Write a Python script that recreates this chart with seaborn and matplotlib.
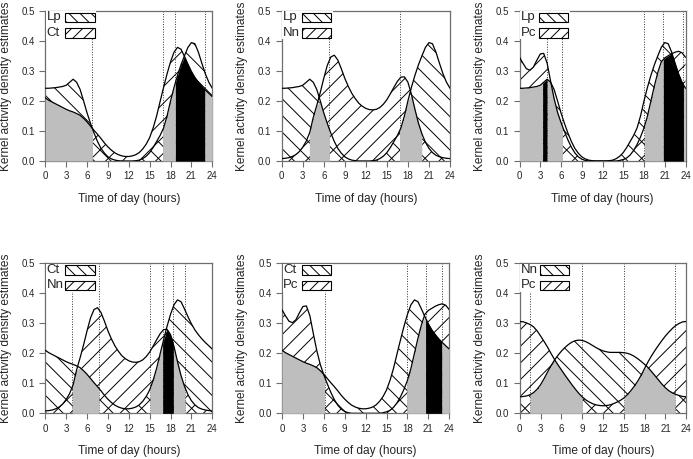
import numpy as np
import matplotlib
matplotlib.use("Agg")
import matplotlib.pyplot as plt
import seaborn as sns
from matplotlib.patches import Rectangle

# ---------------- data ----------------
hours = np.arange(0, 24.5, 0.5)

Lp = [0.242, 0.242, 0.243, 0.244, 0.246, 0.248, 0.252, 0.262, 0.272, 0.262,
      0.238, 0.200, 0.160, 0.125, 0.093, 0.065, 0.042, 0.026, 0.014, 0.007,
      0.003, 0.001, 0.000, 0.000, 0.000, 0.000, 0.001, 0.003, 0.008, 0.016,
      0.028, 0.045, 0.065, 0.085, 0.110, 0.150, 0.200, 0.245, 0.285, 0.320,
      0.350, 0.378, 0.394, 0.390, 0.362, 0.325, 0.290, 0.262, 0.242]

Ct = [0.210, 0.202, 0.196, 0.190, 0.184, 0.178, 0.172, 0.167, 0.163, 0.158,
      0.152, 0.142, 0.130, 0.116, 0.102, 0.089, 0.075, 0.060, 0.047, 0.036,
      0.027, 0.021, 0.017, 0.015, 0.015, 0.017, 0.021, 0.028, 0.040, 0.056,
      0.078, 0.110, 0.150, 0.198, 0.245, 0.290, 0.330, 0.362, 0.378, 0.372,
      0.348, 0.322, 0.298, 0.278, 0.262, 0.248, 0.236, 0.225, 0.214]

Nn = [0.008, 0.009, 0.011, 0.015, 0.021, 0.031, 0.046, 0.066, 0.095, 0.145,
      0.185, 0.228, 0.275, 0.318, 0.346, 0.352, 0.336, 0.307, 0.275, 0.248,
      0.225, 0.207, 0.192, 0.182, 0.175, 0.171, 0.170, 0.172, 0.178, 0.189,
      0.204, 0.224, 0.245, 0.265, 0.279, 0.280, 0.262, 0.222, 0.172, 0.126,
      0.090, 0.062, 0.042, 0.028, 0.019, 0.014, 0.011, 0.009, 0.008]

Pc = [0.345, 0.325, 0.307, 0.302, 0.312, 0.335, 0.356, 0.358, 0.325, 0.265,
      0.208, 0.162, 0.128, 0.098, 0.070, 0.046, 0.027, 0.014, 0.006, 0.002,
      0.000, 0.000, 0.000, 0.000, 0.000, 0.000, 0.000, 0.000, 0.000, 0.002,
      0.005, 0.010, 0.020, 0.035, 0.055, 0.080, 0.110, 0.150, 0.200, 0.250,
      0.295, 0.330, 0.343, 0.350, 0.357, 0.362, 0.365, 0.360, 0.345]

# last panel (Nn vs Pc) has its own estimates
Nn_6 = [0.055, 0.056, 0.058, 0.062, 0.069, 0.080, 0.095, 0.115, 0.137, 0.158,
        0.177, 0.193, 0.207, 0.219, 0.229, 0.237, 0.242, 0.244, 0.243, 0.239,
        0.233, 0.226, 0.219, 0.213, 0.208, 0.205, 0.203, 0.203, 0.203, 0.203,
        0.202, 0.200, 0.196, 0.190, 0.182, 0.173, 0.163, 0.152, 0.139, 0.125,
        0.111, 0.097, 0.085, 0.075, 0.068, 0.063, 0.059, 0.056, 0.055]

Pc_6 = [0.306, 0.305, 0.301, 0.296, 0.288, 0.275, 0.258, 0.240, 0.221, 0.200,
        0.180, 0.162, 0.145, 0.128, 0.112, 0.096, 0.081, 0.067, 0.055, 0.045,
        0.038, 0.032, 0.028, 0.026, 0.025, 0.026, 0.028, 0.032, 0.037, 0.043,
        0.051, 0.062, 0.075, 0.090, 0.107, 0.127, 0.150, 0.172, 0.192, 0.210,
        0.227, 0.243, 0.258, 0.271, 0.283, 0.293, 0.300, 0.305, 0.306]

# species pairs per panel (first = "\\" hatch, second = "//" hatch)
pair_labels = [("Lp", "Ct"), ("Lp", "Nn"), ("Lp", "Pc"),
               ("Ct", "Nn"), ("Ct", "Pc"), ("Nn", "Pc")]
pair_curves = [(Lp, Ct), (Lp, Nn), (Lp, Pc), (Ct, Nn), (Ct, Pc), (Nn_6, Pc_6)]

# dotted interval limits per panel
dotted_lines = [[6.77, 16.86, 18.7, 22.9],
                [6.8, 16.8],
                [3.97, 6.2, 18.05, 20.8, 23.7],
                [3.88, 7.72, 15.04, 16.87, 18.4, 20.07],
                [6.1, 17.9, 20.6, 22.9],
                [1.48, 9.02, 15.03, 22.38]]

gray_spans = [[(0, 6.77), (16.86, 18.7), (22.9, 24)],
              [(3.94, 6.8), (16.8, 19.97)],
              [(0, 3.34), (3.97, 6.2), (18.05, 20.8), (23.7, 24)],
              [(3.88, 7.72), (15.04, 16.87), (18.4, 20.07)],
              [(0, 6.1), (17.9, 20.6), (22.9, 24)],
              [(1.48, 9.02), (15.03, 22.38)]]

black_spans = [[(18.7, 22.9)],
               [],
               [(3.34, 3.97), (20.8, 23.7)],
               [(16.87, 18.4)],
               [(20.6, 22.9)],
               []]

x_ticks = [0, 3, 6, 9, 12, 15, 18, 21, 24]
y_ticks = [0.0, 0.1, 0.2, 0.3, 0.4, 0.5]

# ---------------- style ----------------
sns.set_style("ticks")
plt.rcParams["font.family"] = ["Liberation Sans", "DejaVu Sans"]
plt.rcParams["hatch.linewidth"] = 0.7
plt.rcParams["hatch.color"] = "black"

W, H = 693, 459
fig = plt.figure(figsize=(W / 100, H / 100), dpi=100)

# axes boxes in pixels: (left, top, width, height)
boxes = [(45.3, 10.7, 167, 150.3), (281.7, 10.7, 168.3, 150.3), (519.5, 10.7, 166, 150.3),
         (45.3, 263.3, 167, 150), (282.0, 263.3, 167.3, 150), (519.7, 263.3, 166.6, 150)]

spine_col = "#6e6e6e"

for i in range(6):
    l, t, w, h = boxes[i]
    ax = fig.add_axes([l / W, 1 - (t + h) / H, w / W, h / H])
    A = np.array(pair_curves[i][0])
    B = np.array(pair_curves[i][1])
    mn = np.minimum(A, B)

    for xv in dotted_lines[i]:
        ax.axvline(xv, color="#333333", ls=(0, (1, 1.6)), lw=0.7, zorder=1)

    ax.fill_between(hours, 0, A, facecolor="none", edgecolor="black",
                    hatch="\\\\", lw=0, zorder=2)
    ax.fill_between(hours, 0, B, facecolor="none", edgecolor="black",
                    hatch="//", lw=0, zorder=2)

    for spans, col in ((gray_spans[i], "#bebebe"), (black_spans[i], "black")):
        for s, e in spans:
            xs = np.r_[s, hours[(hours > s) & (hours < e)], e]
            ys = np.interp(xs, hours, mn)
            ax.fill_between(xs, 0, ys, color=col, lw=0, zorder=3)

    sns.lineplot(x=hours, y=A, ax=ax, color="black", lw=0.9, zorder=4)
    sns.lineplot(x=hours, y=B, ax=ax, color="black", lw=0.9, zorder=4)

    # legend (white background covers the dotted lines)
    ax.add_patch(Rectangle((0.004, 0.812), 0.30, 0.183, transform=ax.transAxes,
                           facecolor="white", edgecolor="none", zorder=5))
    for r, (lab, hatch) in enumerate(((pair_labels[i][0], "\\\\\\"),
                                      (pair_labels[i][1], "///"))):
        yc = 0.956 - r * 0.104
        ax.add_patch(Rectangle((0.12, yc - 0.031), 0.175, 0.062, transform=ax.transAxes,
                               facecolor="white", edgecolor="black", hatch=hatch,
                               lw=0.8, zorder=6))
        ax.text(0.008, yc, lab, transform=ax.transAxes, ha="left", va="center",
                fontsize=9.5, zorder=7)

    ax.set_xlim(0, 24)
    ax.set_ylim(0, 0.5)
    ax.set_xticks(x_ticks)
    ax.set_xticklabels([str(v) for v in x_ticks])
    ax.set_yticks(y_ticks)
    ax.set_yticklabels([f"{v:.1f}" for v in y_ticks])
    ax.tick_params(direction="out", length=4.5, width=0.8, labelsize=7,
                   color=spine_col, pad=3)
    for sp in ax.spines.values():
        sp.set_visible(True)
        sp.set_color(spine_col)
        sp.set_linewidth(0.9)
    ax.set_xlabel("Time of day (hours)", fontsize=8.6, labelpad=8)
    ax.set_ylabel("Kernel activity density estimates", fontsize=8.6, labelpad=7)

fig.savefig("out.png", dpi=100)
